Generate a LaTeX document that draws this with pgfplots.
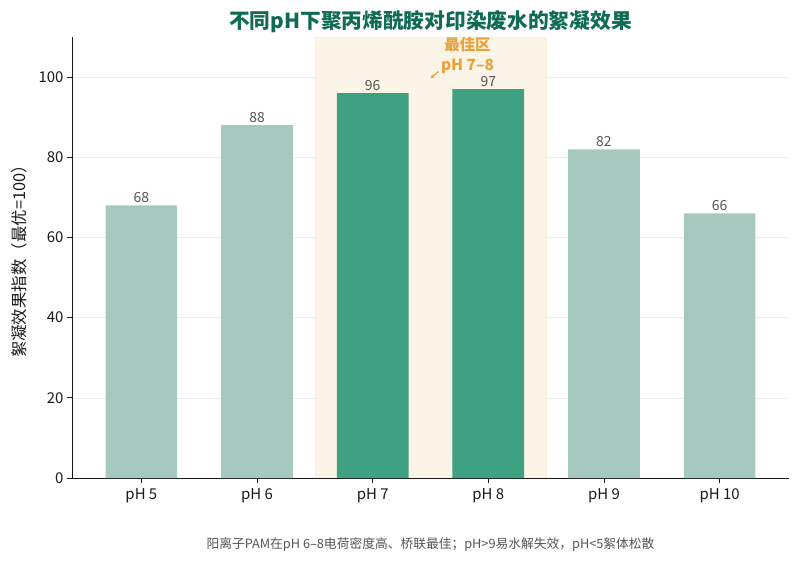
\documentclass[border=0pt]{standalone}
\usepackage{pgfplots}
\pgfplotsset{compat=1.18}
\usepackage{fontspec}
\setmainfont{Noto Sans CJK SC}
\usetikzlibrary{arrows.meta}

\definecolor{barlight}{HTML}{A5C9BF}
\definecolor{bardark}{HTML}{3EA181}
\definecolor{titlegreen}{HTML}{0F6B55}
\definecolor{bestorange}{HTML}{E9A23B}
\definecolor{bandfill}{HTML}{FDF4E8}
\definecolor{bandedge}{HTML}{FAEBDA}
\definecolor{labelgray}{HTML}{555555}

\begin{document}
\begin{tikzpicture}
\useasboundingbox (-72bp,-84bp) rectangle (727bp,478bp);
\begin{axis}[
    at={(0,0)}, anchor=south west,
    scale only axis,
    width=717bp, height=441bp,
    xmin=-0.6, xmax=5.6,
    ymin=0, ymax=110,
    xtick={0,1,2,3,4,5},
    xticklabels={pH 5, pH 6, pH 7, pH 8, pH 9, pH 10},
    ytick={0,20,40,60,80,100},
    axis lines*=left,
    axis line style={draw=black!90, line width=0.8pt},
    tick style={draw=black!90, line width=0.8pt},
    tick align=outside,
    major tick length=5bp,
    ymajorgrids=true,
    grid style={draw=black!7, line width=0.6pt},
    tick label style={font=\fontsize{15}{17}\selectfont, text=black!90},
    xticklabel style={yshift=-2bp},
    /pgf/number format/assume math mode=true,
    ylabel={絮凝效果指数（最优=100）},
    ylabel style={font=\fontsize{16.5}{18}\selectfont, text=black!90, yshift=5bp},
    clip=false,
  ]
  % optimum band pH 7-8
  \addplot[fill=bandfill, draw=bandedge, line width=0.6pt]
    coordinates {(1.5,0) (1.5,110) (3.5,110) (3.5,0)} -- cycle;
  \draw[black!90, line width=0.8pt] (rel axis cs:0,0) -- (rel axis cs:1,0);

  % other pH values
  \addplot[ybar, bar shift=0pt, bar width=0.62, fill=barlight, draw=none,
    nodes near coords,
    every node near coord/.append style={font=\fontsize{14}{16}\selectfont, text=labelgray, yshift=-1bp}]
    coordinates {(0,68) (1,88) (4,82) (5,66)};

  % optimum pH values
  \addplot[ybar, bar shift=0pt, bar width=0.62, fill=bardark, draw=none,
    nodes near coords,
    every node near coord/.append style={font=\fontsize{14}{16}\selectfont, text=labelgray, yshift=-1bp}]
    coordinates {(2,96) (3,97)};

  \node[align=center, anchor=center, text=bestorange,
        font=\fontsize{15.5}{20}\selectfont\bfseries]
    at (axis cs:2.82,105.3) {最佳区\\pH 7–8};
  \draw[-{Stealth[length=4bp,width=4bp]}, bestorange, line width=1.2pt]
    (axis cs:2.57,101.4) -- (axis cs:2.50,99.7);

  \node[text=titlegreen, font=\fontsize{20.8}{24}\selectfont\bfseries]
    at (rel axis cs:0.5,1) [yshift=15bp] {不同pH下聚丙烯酰胺对印染废水的絮凝效果};
  \node[text=labelgray, font=\fontsize{12.8}{15}\selectfont]
    at (rel axis cs:0.5,0) [yshift=-67bp] {阳离子PAM在pH 6–8电荷密度高、桥联最佳；pH>9易水解失效，pH<5絮体松散};
\end{axis}
\end{tikzpicture}
\end{document}
